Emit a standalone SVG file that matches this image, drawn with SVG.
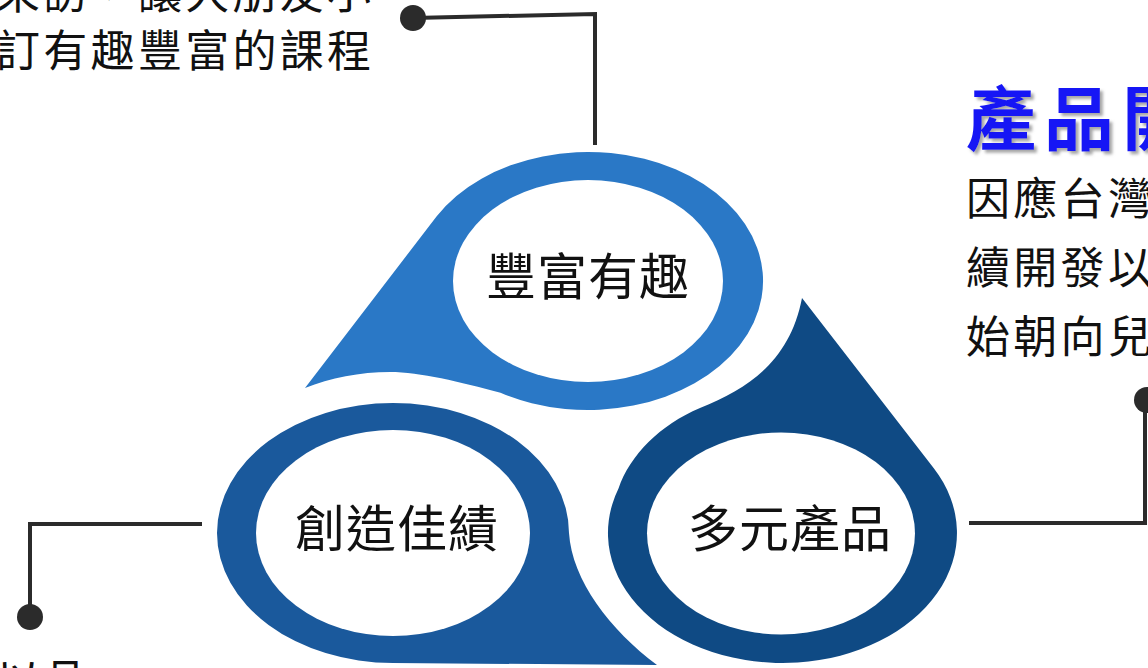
<svg xmlns="http://www.w3.org/2000/svg" width="1148" height="668" viewBox="0 0 1148 668">
<style>
.txt{font-family:"Noto Sans CJK TC","Noto Sans CJK SC",sans-serif;font-size:44px;letter-spacing:3.3px;fill:#111}
.lbl{font-family:"Noto Sans CJK TC","Noto Sans CJK SC",sans-serif;font-size:50px;letter-spacing:1px;fill:#111}
.title{font-family:"Noto Sans CJK TC","Noto Sans CJK SC",sans-serif;font-size:70px;font-weight:bold;letter-spacing:8px;fill:#1414F5}
.conn{stroke:#2B2B2B;stroke-width:4;fill:none}
.dot{fill:#2B2B2B}
.hole{fill:#fff}
</style>
<defs>
<filter id="sh" x="-10%" y="-10%" width="130%" height="130%">
<feDropShadow dx="3" dy="3" stdDeviation="1.5" flood-color="#808080" flood-opacity="0.7"/>
</filter>
</defs>
<rect width="1148" height="668" fill="#fff"/>

<g id="text-top-left">
<text class="txt" x="-4" y="9">來訪，讓大朋友小</text>
<text class="txt" x="-4" y="67">訂有趣豐富的課程</text>
</g>
<g id="text-right">
<text class="title" x="966" y="145" filter="url(#sh)">產品開</text>
<text class="txt" x="966" y="215">因應台灣</text>
<text class="txt" x="966" y="284">續開發以</text>
<text class="txt" x="966" y="353">始朝向兒</text>
</g>
<g id="text-bottom-left">
<text class="txt" x="-4" y="697">以品</text>
</g>

<g id="connectors">
<path class="conn" d="M413,18 L595,14 L595,145"/>
<circle class="dot" cx="413" cy="18" r="13"/>
<path class="conn" d="M1145,400 L1145,523 L969,523"/>
<circle class="dot" cx="1147" cy="400" r="13"/>
<path class="conn" d="M202,524 L30,524 L30,617"/>
<circle class="dot" cx="30" cy="617" r="13"/>
</g>

<g id="node-fengfu">
<path fill="#2A78C6" d="M305,388 L436.5,216.5 A175,129 0 1 1 500.5,392.7 C460,382 420,372 390,372 C360,372 330,378 305,388 Z"/>
<ellipse class="hole" cx="588" cy="281" rx="135" ry="101"/>
<text class="lbl" x="486" y="295">豐富有趣</text>
</g>

<g id="node-chuangzao">
<path fill="#1A599C" d="M657,665 L393,663 A176,130 0 1 1 569,533 C572,580 610,630 657,665 Z"/>
<ellipse class="hole" cx="393" cy="533" rx="137" ry="103"/>
<text class="lbl" x="295" y="547">創造佳績</text>
</g>

<g id="node-duoyuan">
<path fill="#0F4A84" d="M802,298 L933.6,468 A174.5,130 0 1 1 618.5,488.5 C630,455 660,425 700,408 C750,388 790,360 802,298 Z"/>
<ellipse class="hole" cx="781" cy="533.5" rx="134" ry="101"/>
<text class="lbl" x="688" y="547">多元產品</text>
</g>
</svg>
